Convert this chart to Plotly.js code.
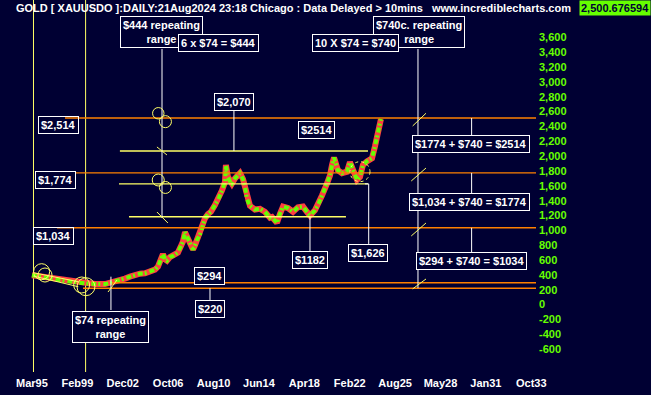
<!DOCTYPE html>
<html>
<head>
<meta charset="utf-8">
<script src="https://cdn.plot.ly/plotly-3.0.1.min.js"></script>
<style>
html,body{margin:0;padding:0;background:#000033;}
#chart{width:651px;height:395px;}
</style>
</head>
<body>
<div id="chart"></div>
<script>
// ---- data ----
const years = [1995.20,1995.88,1996.73,1997.57,1998.42,1999.02,1999.70,2000.54,2001.39,2001.82,
  2002.24,2002.66,2003.09,2003.51,2003.94,2004.36,2004.78,2005.21,2005.63,2005.89,
  2006.14,2006.31,2006.48,2006.65,2006.90,2007.24,2007.58,2007.84,2008.01,2008.18,
  2008.35,2008.52,2008.69,2008.86,2009.03,2009.19,2009.45,2009.70,2009.87,2010.13,
  2010.38,2010.72,2010.98,2011.32,2011.57,2011.65,2011.82,2011.99,2012.16,2012.42,
  2012.67,2012.84,2013.10,2013.27,2013.44,2013.69,2014.11,2014.54,2014.96,2015.39,
  2015.56,2015.98,2016.23,2016.49,2016.91,2017.34,2017.76,2018.19,2018.52,2018.78,
  2019.20,2019.46,2019.80,2020.22,2020.48,2020.65,2020.82,2020.98,2021.15,2021.49,
  2021.92,2022.17,2022.43,2022.77,2023.02,2023.27,2023.61,2024.04,2024.29,2024.55,2024.80];
const prices = [395,380,355,330,310,295,285,278,275,290,
  310,335,350,375,400,415,420,440,470,510,
  600,680,610,590,640,660,700,790,850,975,
  920,860,790,740,800,870,940,1100,1160,1220,
  1250,1340,1410,1540,1650,1880,1720,1660,1630,1700,
  1750,1770,1690,1590,1420,1330,1280,1290,1250,1170,
  1180,1100,1220,1320,1300,1250,1310,1320,1250,1200,
  1270,1340,1470,1630,1740,1880,1980,1900,1810,1770,
  1790,1920,1810,1680,1720,1880,1930,1970,2130,2330,2500];

const xTickVals = [1995.2,1999.05,2002.9,2006.75,2010.6,2014.45,2018.3,2022.15,2026.0,2029.85,2033.7,2037.55];
const xTickText = ['Mar95','Feb99','Dec02','Oct06','Aug10','Jun14','Apr18','Feb22','Aug25','May28','Jan31','Oct33'];
const yTickVals = [-600,-400,-200,0,200,400,600,800,1000,1200,1400,1600,1800,2000,2200,2400,2600,2800,3000,3200,3400,3600];
const yTickText = ['-600','-400','-200','0','200','400','600','800','1,000','1,200','1,400','1,600','1,800','2,000','2,200','2,400','2,600','2,800','3,000','3,200','3,400','3,600'];

const orangeLevels = [2514, 1774, 1034, 294, 220];
const orangeStarts = [1998.0, 1998.85, 1997.32, 2001.99, 1999.53];
const yellowLevels = [2070, 1626, 1182];
const yellowStarts = [2002.66, 2002.58, 2003.43];
const yellowEnds = [2023.70, 2023.70, 2021.83];

const lastPrice = '2,500.676594';

// ---- styling ----
const BG = '#000033';
const ORANGE = '#ff8000';
const YEL = '#ffff66';
const WHITE = '#ffffff';
const GREEN = '#66ff00';
const RED = '#ff4040';
const FONT = 'Liberation Sans, Arial, sans-serif';
const XMIN = 1992.49, XMAX = 2037.95;

const shapes = [];
function seg(x0,y0,x1,y1,color,width,dash){
  shapes.push({type:'line',xref:'x',yref:'y',x0:x0,y0:y0,x1:x1,y1:y1,line:{color:color,width:width||1,dash:dash||'solid'},layer:'above'});
}
function circ(x0,y0,x1,y1,dash){
  shapes.push({type:'circle',xref:'x',yref:'y',x0:x0,y0:y0,x1:x1,y1:y1,line:{color:YEL,width:1,dash:dash||'solid'},layer:'above'});
}
// vertical yellow lines
shapes.push({type:'line',xref:'x',yref:'paper',x0:1995.33,x1:1995.33,y0:0,y1:1,line:{color:YEL,width:1},layer:'below'});
shapes.push({type:'line',xref:'x',yref:'paper',x0:1999.75,x1:1999.75,y0:0,y1:1,line:{color:YEL,width:1},layer:'below'});
// orange levels
orangeLevels.forEach((v,i)=>seg(orangeStarts[i],v,XMAX,v,ORANGE,1.4));
// yellow levels
yellowLevels.forEach((v,i)=>seg(yellowStarts[i],v,yellowEnds[i],v,YEL,1.4));
// white connectors
seg(2006.23,3445,2006.23,1166,WHITE,1);
seg(2027.94,3445,2027.94,220,WHITE,1);
seg(2012.33,2613,2012.33,2070,WHITE,1);
seg(2018.78,1182,2018.78,712,WHITE,1);
seg(2023.76,1626,2023.76,816,WHITE,1);
seg(2023.45,1626,2023.76,1626,WHITE,1);
seg(2010.30,220,2010.30,61,WHITE,1);
seg(2001.90,375,2001.90,-74,WHITE,1);
seg(2032.49,2514,2032.49,2285,WHITE,1);
seg(2032.49,1774,2032.49,1499,WHITE,1);
seg(2032.49,1034,2032.49,704,WHITE,1);
// yellow slash ticks
seg(2005.80,2124,2006.65,2016,YEL,1);
seg(2005.80,1247,2006.73,1099,YEL,1);
seg(2027.49,2407,2028.62,2578,YEL,1);
seg(2027.37,1665,2028.62,1840,YEL,1);
seg(2027.37,924,2028.62,1099,YEL,1);
seg(2027.49,210,2028.62,344,YEL,1);
seg(2001.65,168,2002.41,330,YEL,1);
// wedge lines
seg(1995.31,429,1999.13,307,YEL,1);
seg(1995.31,384,1999.13,240,YEL,1);
// circles
circ(2005.43,2501,2006.40,2655);
circ(2006.01,2384,2007.03,2546);
circ(2005.40,1598,2006.42,1759);
circ(2006.01,1497,2007.03,1658);
circ(1995.34,334,1996.70,550);
circ(1995.71,303,1996.90,492);
circ(1998.74,155,2000.09,371);
circ(1999.02,119,2000.54,361);
circ(2022.17,1656,2023.87,1925,'dot');

const annotations = [];
function box(text,x,y,bg){
  annotations.push({text:text,x:x,y:y,xref:'x',yref:'y',showarrow:false,
    font:{family:FONT,size:11,color:WHITE,weight:'bold'},
    bordercolor:WHITE,borderwidth:1,borderpad:2,bgcolor:bg===undefined?BG:bg,align:'center',
    xanchor:'center',yanchor:'middle'});
}
box('$444 repeating<br>range',2006.18,3670);
box('6 x $74 = $444',2011.06,3526);
box('$740c. repeating<br>range',2028.02,3667);
box('10 X $74 = $740',2022.68,3526);
box('$2,070',2012.33,2730);
box('$2514',2019.37,2353);
box('$1182',2018.78,600);
box('$1,626',2023.72,697);
box('$294',2010.30,387);
box('$220',2010.30,-57);
box('$74 repeating<br>range',2001.88,-299);
box('$2,514',1997.45,2424,'rgba(0,0,0,0)');
box('$1,774',1997.18,1681,'rgba(0,0,0,0)');
box('$1,034',1997.01,930,'rgba(0,0,0,0)');
box('$1774 + $740 = $2514',2032.42,2168);
box('$1,034 + $740 = $1774',2032.31,1382);
box('$294 + $740 = $1034',2032.45,589);

// header
annotations.push({text:'GOLD [ XAUUSDO ]:DAILY:21Aug2024 23:18 Chicago : Data Delayed &gt; 10mins',
  xref:'paper',yref:'paper',x:14/536,y:1-8/372,xanchor:'left',yanchor:'middle',showarrow:false,
  font:{family:FONT,size:11,color:WHITE,weight:'bold'}});
annotations.push({text:'www.incrediblecharts.com',
  xref:'paper',yref:'paper',x:429/536,y:1-8/372,xanchor:'left',yanchor:'middle',showarrow:false,
  font:{family:FONT,size:11,color:WHITE,weight:'bold'}});
annotations.push({text:lastPrice,
  xref:'paper',yref:'paper',x:651/536,y:1-8/372,xanchor:'right',yanchor:'middle',showarrow:false,
  bgcolor:GREEN,borderpad:1,
  font:{family:FONT,size:11,color:BG,weight:'bold'}});

const traces = [
  {x:years,y:prices,type:'scatter',mode:'lines',line:{color:RED,width:6},hoverinfo:'skip',showlegend:false},
  {x:years,y:prices,type:'scatter',mode:'lines',line:{color:GREEN,width:4,dash:'5px,2px,2px,3px'},hoverinfo:'skip',showlegend:false}
];

const layout = {
  width:651,height:395,
  paper_bgcolor:BG,plot_bgcolor:BG,
  margin:{l:0,r:115,t:0,b:23,pad:0},
  showlegend:false,
  xaxis:{type:'linear',range:[XMIN,XMAX],tickvals:xTickVals,ticktext:xTickText,
    showgrid:false,zeroline:false,showline:false,ticks:'',ticklabelstandoff:3,
    tickfont:{family:FONT,size:11,color:WHITE,weight:'bold'}},
  yaxis:{type:'linear',range:[-910,4105],side:'right',tickvals:yTickVals,ticktext:yTickText,
    showgrid:false,zeroline:false,showline:false,ticks:'',ticklabelstandoff:2,
    tickfont:{family:FONT,size:11,color:GREEN,weight:'bold'}},
  shapes:shapes,
  annotations:annotations
};
Plotly.newPlot('chart',traces,layout,{staticPlot:true,displayModeBar:false});
</script>
</body>
</html>
